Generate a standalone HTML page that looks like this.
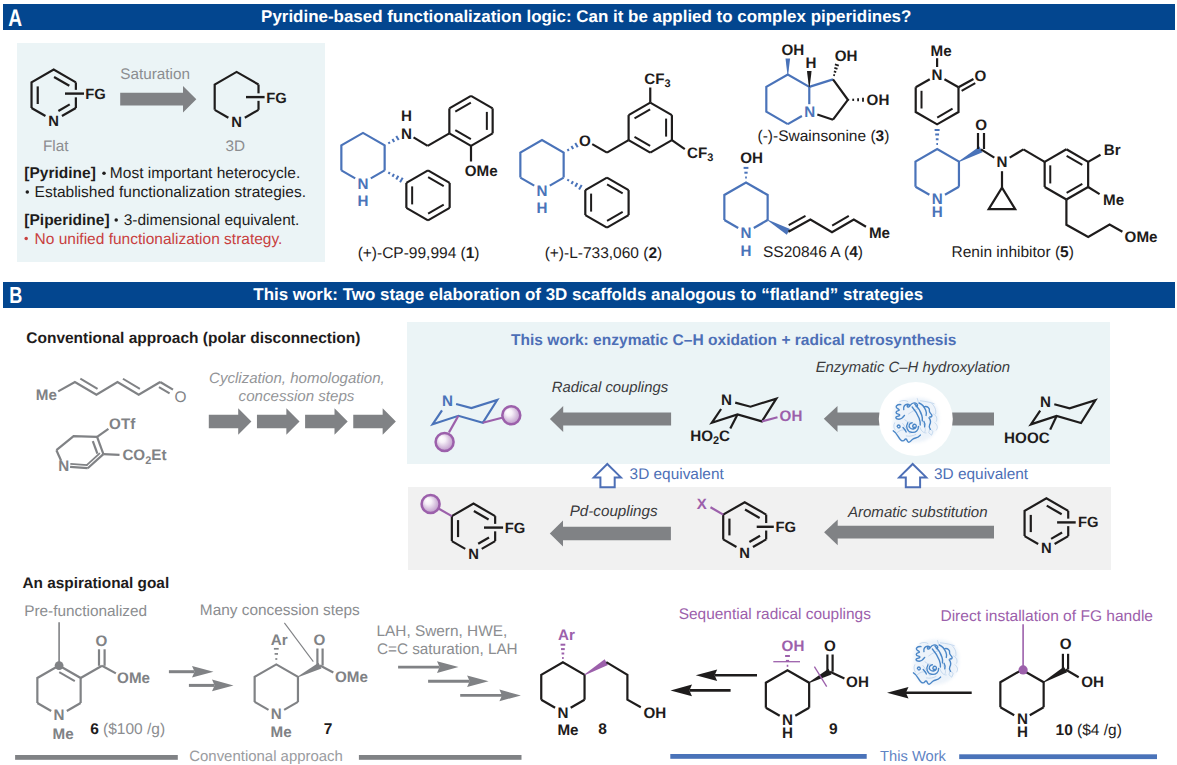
<!DOCTYPE html>
<html><head><meta charset="utf-8"><style>
html,body{margin:0;padding:0;background:#fff;}
svg{display:block;}
text{font-family:"Liberation Sans",sans-serif;text-rendering:geometricPrecision;}
</style></head><body>
<svg width="1177" height="765" viewBox="0 0 1177 765">
<defs>
<radialGradient id="ball" cx="0.5" cy="0.5" fx="0.3" fy="0.28" r="0.62">
<stop offset="0" stop-color="#ffffff"/><stop offset="0.3" stop-color="#f6f0f8"/><stop offset="1" stop-color="#ae82bd"/>
</radialGradient>
<radialGradient id="glow" cx="0.5" cy="0.5" r="0.5">
<stop offset="0.9" stop-color="#ffffff" stop-opacity="1"/><stop offset="1" stop-color="#ffffff" stop-opacity="0"/>
</radialGradient>
</defs>
<rect x="0" y="0" width="1177" height="765" fill="#ffffff"/>
<rect x="3" y="4" width="1172" height="26" fill="#03468f"/>
<rect x="3" y="282" width="1172" height="26" fill="#03468f"/>
<rect x="17" y="43" width="308" height="219" fill="#ebf4f6"/>
<rect x="407" y="322" width="703" height="142" fill="#ebf4f6"/>
<rect x="408" y="487" width="703" height="83" fill="#f1f1f1"/>
<text transform="translate(8.2,25.9) scale(0.80,1)" font-size="24" font-weight="bold" fill="#ffffff">A</text>
<text transform="translate(9.2,303) scale(0.78,1)" font-size="23.2" font-weight="bold" fill="#ffffff">B</text>
<text x="261.08" y="22.30" font-size="16.95" font-weight="bold" font-style="normal" fill="#ffffff">Pyridine-based functionalization logic: Can it be applied to complex piperidines?</text>
<text x="253.31" y="300.40" font-size="16.95" font-weight="bold" font-style="normal" fill="#ffffff">This work: Two stage elaboration of 3D scaffolds analogous to “flatland” strategies</text>
<polyline points="31.53,108.00 31.53,82.40 53.70,69.60 75.87,82.40" fill="none" stroke="#1e1c1c" stroke-width="2.2" stroke-linejoin="miter"/>
<line x1="75.87" y1="82.40" x2="75.87" y2="108.00" stroke="#1e1c1c" stroke-width="2.2" stroke-linecap="butt"/>
<line x1="75.87" y1="108.00" x2="61.93" y2="116.05" stroke="#1e1c1c" stroke-width="2.2" stroke-linecap="butt"/>
<line x1="31.53" y1="108.00" x2="45.47" y2="116.05" stroke="#1e1c1c" stroke-width="2.2" stroke-linecap="butt"/>
<line x1="37.73" y1="86.40" x2="37.73" y2="104.00" stroke="#1e1c1c" stroke-width="2.2" stroke-linecap="butt"/>
<line x1="54.06" y1="76.97" x2="69.31" y2="85.77" stroke="#1e1c1c" stroke-width="2.2" stroke-linecap="butt"/>
<line x1="69.74" y1="104.38" x2="58.39" y2="110.93" stroke="#1e1c1c" stroke-width="2.2" stroke-linecap="butt"/>
<line x1="65.00" y1="93.60" x2="79.37" y2="93.60" stroke="#ebf4f6" stroke-width="7.5" stroke-linecap="butt"/>
<line x1="65.00" y1="93.60" x2="84.00" y2="93.60" stroke="#1e1c1c" stroke-width="2.4" stroke-linecap="butt"/>
<text x="85.22" y="99.30" font-size="14.8" font-weight="bold" font-style="normal" fill="#1e1c1c">FG</text>
<text x="48.36" y="125.50" font-size="14.8" font-weight="bold" font-style="normal" fill="#1e1c1c">N</text>
<polygon points="120.20,92.70 183.00,92.70 183.00,86.10 196.30,99.20 183.00,112.40 183.00,105.60 120.20,105.60" fill="#808285"/>
<text x="120.31" y="78.80" font-size="15.3" font-weight="normal" font-style="normal" fill="#8b8d90">Saturation</text>
<polyline points="214.69,109.85 214.69,84.55 236.60,71.90 258.51,84.55" fill="none" stroke="#1e1c1c" stroke-width="2.2" stroke-linejoin="miter"/>
<line x1="258.51" y1="84.55" x2="258.51" y2="109.85" stroke="#1e1c1c" stroke-width="2.2" stroke-linecap="butt"/>
<line x1="258.51" y1="109.85" x2="244.83" y2="117.75" stroke="#1e1c1c" stroke-width="2.2" stroke-linecap="butt"/>
<line x1="214.69" y1="109.85" x2="228.37" y2="117.75" stroke="#1e1c1c" stroke-width="2.2" stroke-linecap="butt"/>
<line x1="246.00" y1="97.10" x2="262.01" y2="97.10" stroke="#ebf4f6" stroke-width="7.5" stroke-linecap="butt"/>
<line x1="246.00" y1="97.10" x2="264.60" y2="97.10" stroke="#1e1c1c" stroke-width="2.4" stroke-linecap="butt"/>
<text x="266.22" y="102.60" font-size="14.8" font-weight="bold" font-style="normal" fill="#1e1c1c">FG</text>
<text x="231.26" y="127.20" font-size="14.8" font-weight="bold" font-style="normal" fill="#1e1c1c">N</text>
<text x="42.95" y="150.70" font-size="15.3" font-weight="normal" font-style="normal" fill="#8b8d90">Flat</text>
<text x="225.42" y="150.70" font-size="15.3" font-weight="normal" font-style="normal" fill="#8b8d90">3D</text>
<text x="24.33" y="178.40" font-size="15.5"><tspan font-weight="bold" font-style="normal" fill="#1e1c1c">[Pyridine]</tspan><tspan font-weight="normal" font-style="normal" fill="#00000000"> •</tspan><tspan font-weight="normal" font-style="normal" fill="#1e1c1c"> Most important heterocycle.</tspan></text>
<text x="24.80" y="197.00" font-size="15.5"><tspan font-weight="normal" font-style="normal" fill="#00000000">•</tspan><tspan font-weight="normal" font-style="normal" fill="#1e1c1c"> Established functionalization strategies.</tspan></text>
<text x="24.33" y="225.00" font-size="15.5"><tspan font-weight="bold" font-style="normal" fill="#1e1c1c">[Piperidine]</tspan><tspan font-weight="normal" font-style="normal" fill="#00000000"> •</tspan><tspan font-weight="normal" font-style="normal" fill="#1e1c1c"> 3-dimensional equivalent.</tspan></text>
<text x="24.80" y="243.60" font-size="15.5"><tspan font-weight="normal" font-style="normal" fill="#00000000">•</tspan><tspan font-weight="normal" font-style="normal" fill="#c8403f"> No unified functionalization strategy.</tspan></text>
<circle cx="104" cy="173.3" r="1.75" fill="#1e1c1c"/>
<circle cx="27.3" cy="191.9" r="1.75" fill="#1e1c1c"/>
<circle cx="116.2" cy="219.9" r="1.75" fill="#1e1c1c"/>
<circle cx="26.2" cy="238.5" r="1.75" fill="#c8403f"/>
<polyline points="341.35,170.40 341.35,145.40 363.00,132.90 384.65,145.40 384.65,170.40" fill="none" stroke="#4a73b9" stroke-width="2.2" stroke-linejoin="miter"/>
<line x1="384.65" y1="170.40" x2="370.79" y2="178.40" stroke="#4a73b9" stroke-width="2.2" stroke-linecap="butt"/>
<line x1="341.35" y1="170.40" x2="355.21" y2="178.40" stroke="#4a73b9" stroke-width="2.2" stroke-linecap="butt"/>
<text x="357.52" y="188.60" font-size="15.2" font-weight="bold" font-style="normal" fill="#4a73b9">N</text>
<text x="357.52" y="206.20" font-size="15.2" font-weight="bold" font-style="normal" fill="#4a73b9">H</text>
<line x1="389.68" y1="143.71" x2="388.63" y2="141.89" stroke="#4a73b9" stroke-width="2.0" stroke-linecap="butt"/>
<line x1="394.19" y1="141.92" x2="392.44" y2="138.88" stroke="#4a73b9" stroke-width="2.0" stroke-linecap="butt"/>
<line x1="398.69" y1="140.12" x2="396.24" y2="135.88" stroke="#4a73b9" stroke-width="2.0" stroke-linecap="butt"/>
<text x="400.92" y="138.80" font-size="15.2" font-weight="bold" font-style="normal" fill="#1e1c1c">N</text>
<text x="400.92" y="121.00" font-size="15.2" font-weight="bold" font-style="normal" fill="#1e1c1c">H</text>
<line x1="413.56" y1="137.32" x2="427.65" y2="145.90" stroke="#1e1c1c" stroke-width="2.2" stroke-linecap="butt"/>
<polyline points="427.65,145.90 449.35,133.40" fill="none" stroke="#1e1c1c" stroke-width="2.2" stroke-linejoin="miter"/>
<line x1="471.00" y1="95.90" x2="492.65" y2="108.40" stroke="#1e1c1c" stroke-width="2.2" stroke-linecap="butt"/>
<line x1="492.65" y1="108.40" x2="492.65" y2="133.40" stroke="#1e1c1c" stroke-width="2.2" stroke-linecap="butt"/>
<line x1="492.65" y1="133.40" x2="471.00" y2="145.90" stroke="#1e1c1c" stroke-width="2.2" stroke-linecap="butt"/>
<line x1="471.00" y1="145.90" x2="449.35" y2="133.40" stroke="#1e1c1c" stroke-width="2.2" stroke-linecap="butt"/>
<line x1="449.35" y1="133.40" x2="449.35" y2="108.40" stroke="#1e1c1c" stroke-width="2.2" stroke-linecap="butt"/>
<line x1="449.35" y1="108.40" x2="471.00" y2="95.90" stroke="#1e1c1c" stroke-width="2.2" stroke-linecap="butt"/>
<line x1="455.28" y1="111.67" x2="470.87" y2="102.67" stroke="#1e1c1c" stroke-width="2.0" stroke-linecap="butt"/>
<line x1="486.85" y1="111.90" x2="486.85" y2="129.90" stroke="#1e1c1c" stroke-width="2.0" stroke-linecap="butt"/>
<line x1="470.87" y1="139.13" x2="455.28" y2="130.13" stroke="#1e1c1c" stroke-width="2.0" stroke-linecap="butt"/>
<line x1="471.00" y1="145.90" x2="471.00" y2="161.50" stroke="#1e1c1c" stroke-width="2.2" stroke-linecap="butt"/>
<text x="464.78" y="175.60" font-size="15.2" font-weight="bold" font-style="normal" fill="#1e1c1c">OMe</text>
<line x1="388.63" y1="173.91" x2="389.68" y2="172.09" stroke="#4a73b9" stroke-width="2.0" stroke-linecap="butt"/>
<line x1="392.43" y1="176.72" x2="394.02" y2="173.98" stroke="#4a73b9" stroke-width="2.0" stroke-linecap="butt"/>
<line x1="396.24" y1="179.53" x2="398.35" y2="175.87" stroke="#4a73b9" stroke-width="2.0" stroke-linecap="butt"/>
<line x1="400.04" y1="182.35" x2="402.69" y2="177.76" stroke="#4a73b9" stroke-width="2.0" stroke-linecap="butt"/>
<line x1="428.00" y1="170.40" x2="449.65" y2="182.90" stroke="#1e1c1c" stroke-width="2.2" stroke-linecap="butt"/>
<line x1="449.65" y1="182.90" x2="449.65" y2="207.90" stroke="#1e1c1c" stroke-width="2.2" stroke-linecap="butt"/>
<line x1="449.65" y1="207.90" x2="428.00" y2="220.40" stroke="#1e1c1c" stroke-width="2.2" stroke-linecap="butt"/>
<line x1="428.00" y1="220.40" x2="406.35" y2="207.90" stroke="#1e1c1c" stroke-width="2.2" stroke-linecap="butt"/>
<line x1="406.35" y1="207.90" x2="406.35" y2="182.90" stroke="#1e1c1c" stroke-width="2.2" stroke-linecap="butt"/>
<line x1="406.35" y1="182.90" x2="428.00" y2="170.40" stroke="#1e1c1c" stroke-width="2.2" stroke-linecap="butt"/>
<line x1="412.15" y1="204.40" x2="412.15" y2="186.40" stroke="#1e1c1c" stroke-width="2.0" stroke-linecap="butt"/>
<line x1="428.13" y1="177.17" x2="443.72" y2="186.17" stroke="#1e1c1c" stroke-width="2.0" stroke-linecap="butt"/>
<line x1="443.72" y1="204.63" x2="428.13" y2="213.63" stroke="#1e1c1c" stroke-width="2.0" stroke-linecap="butt"/>
<text x="357.64" y="258.40" font-size="15.5"><tspan font-weight="normal" font-style="normal" fill="#1e1c1c">(+)-CP-99,994 (</tspan><tspan font-weight="bold" font-style="normal" fill="#1e1c1c">1</tspan><tspan font-weight="normal" font-style="normal" fill="#1e1c1c">)</tspan></text>
<polyline points="520.35,177.60 520.35,152.60 542.00,140.10 563.65,152.60 563.65,177.60" fill="none" stroke="#4a73b9" stroke-width="2.2" stroke-linejoin="miter"/>
<line x1="563.65" y1="177.60" x2="549.79" y2="185.60" stroke="#4a73b9" stroke-width="2.2" stroke-linecap="butt"/>
<line x1="520.35" y1="177.60" x2="534.21" y2="185.60" stroke="#4a73b9" stroke-width="2.2" stroke-linecap="butt"/>
<text x="536.52" y="195.60" font-size="15.2" font-weight="bold" font-style="normal" fill="#4a73b9">N</text>
<text x="536.52" y="213.20" font-size="15.2" font-weight="bold" font-style="normal" fill="#4a73b9">H</text>
<line x1="568.68" y1="150.91" x2="567.63" y2="149.09" stroke="#4a73b9" stroke-width="2.0" stroke-linecap="butt"/>
<line x1="573.19" y1="149.12" x2="571.44" y2="146.08" stroke="#4a73b9" stroke-width="2.0" stroke-linecap="butt"/>
<line x1="577.69" y1="147.32" x2="575.24" y2="143.08" stroke="#4a73b9" stroke-width="2.0" stroke-linecap="butt"/>
<text x="579.09" y="146.20" font-size="15.2" font-weight="bold" font-style="normal" fill="#1e1c1c">O</text>
<line x1="592.23" y1="144.10" x2="606.95" y2="152.60" stroke="#1e1c1c" stroke-width="2.2" stroke-linecap="butt"/>
<line x1="606.95" y1="152.60" x2="628.60" y2="140.10" stroke="#1e1c1c" stroke-width="2.2" stroke-linecap="butt"/>
<line x1="650.25" y1="102.60" x2="671.90" y2="115.10" stroke="#1e1c1c" stroke-width="2.2" stroke-linecap="butt"/>
<line x1="671.90" y1="115.10" x2="671.90" y2="140.10" stroke="#1e1c1c" stroke-width="2.2" stroke-linecap="butt"/>
<line x1="671.90" y1="140.10" x2="650.25" y2="152.60" stroke="#1e1c1c" stroke-width="2.2" stroke-linecap="butt"/>
<line x1="650.25" y1="152.60" x2="628.60" y2="140.10" stroke="#1e1c1c" stroke-width="2.2" stroke-linecap="butt"/>
<line x1="628.60" y1="140.10" x2="628.60" y2="115.10" stroke="#1e1c1c" stroke-width="2.2" stroke-linecap="butt"/>
<line x1="628.60" y1="115.10" x2="650.25" y2="102.60" stroke="#1e1c1c" stroke-width="2.2" stroke-linecap="butt"/>
<line x1="650.12" y1="109.37" x2="634.53" y2="118.37" stroke="#1e1c1c" stroke-width="2.0" stroke-linecap="butt"/>
<line x1="666.10" y1="118.60" x2="666.10" y2="136.60" stroke="#1e1c1c" stroke-width="2.0" stroke-linecap="butt"/>
<line x1="634.53" y1="136.83" x2="650.12" y2="145.83" stroke="#1e1c1c" stroke-width="2.0" stroke-linecap="butt"/>
<line x1="650.25" y1="102.60" x2="650.25" y2="87.50" stroke="#1e1c1c" stroke-width="2.2" stroke-linecap="butt"/>
<text x="644.18" y="83.90" font-size="15.2" font-weight="bold" font-style="normal" fill="#1e1c1c">CF</text>
<text x="664.44" y="87.09" font-size="10.94" font-weight="bold" font-style="normal" fill="#1e1c1c">3</text>
<line x1="671.90" y1="140.10" x2="684.80" y2="149.10" stroke="#1e1c1c" stroke-width="2.2" stroke-linecap="butt"/>
<text x="687.08" y="158.30" font-size="15.2" font-weight="bold" font-style="normal" fill="#1e1c1c">CF</text>
<text x="707.34" y="161.49" font-size="10.94" font-weight="bold" font-style="normal" fill="#1e1c1c">3</text>
<line x1="567.63" y1="181.11" x2="568.68" y2="179.29" stroke="#4a73b9" stroke-width="2.0" stroke-linecap="butt"/>
<line x1="571.43" y1="183.92" x2="573.02" y2="181.18" stroke="#4a73b9" stroke-width="2.0" stroke-linecap="butt"/>
<line x1="575.24" y1="186.73" x2="577.35" y2="183.07" stroke="#4a73b9" stroke-width="2.0" stroke-linecap="butt"/>
<line x1="579.04" y1="189.55" x2="581.69" y2="184.96" stroke="#4a73b9" stroke-width="2.0" stroke-linecap="butt"/>
<line x1="606.95" y1="177.60" x2="628.60" y2="190.10" stroke="#1e1c1c" stroke-width="2.2" stroke-linecap="butt"/>
<line x1="628.60" y1="190.10" x2="628.60" y2="215.10" stroke="#1e1c1c" stroke-width="2.2" stroke-linecap="butt"/>
<line x1="628.60" y1="215.10" x2="606.95" y2="227.60" stroke="#1e1c1c" stroke-width="2.2" stroke-linecap="butt"/>
<line x1="606.95" y1="227.60" x2="585.30" y2="215.10" stroke="#1e1c1c" stroke-width="2.2" stroke-linecap="butt"/>
<line x1="585.30" y1="215.10" x2="585.30" y2="190.10" stroke="#1e1c1c" stroke-width="2.2" stroke-linecap="butt"/>
<line x1="585.30" y1="190.10" x2="606.95" y2="177.60" stroke="#1e1c1c" stroke-width="2.2" stroke-linecap="butt"/>
<line x1="591.10" y1="211.60" x2="591.10" y2="193.60" stroke="#1e1c1c" stroke-width="2.0" stroke-linecap="butt"/>
<line x1="607.08" y1="184.37" x2="622.67" y2="193.37" stroke="#1e1c1c" stroke-width="2.0" stroke-linecap="butt"/>
<line x1="622.67" y1="211.83" x2="607.08" y2="220.83" stroke="#1e1c1c" stroke-width="2.0" stroke-linecap="butt"/>
<text x="544.64" y="258.00" font-size="15.5"><tspan font-weight="normal" font-style="normal" fill="#1e1c1c">(+)-L-733,060 (</tspan><tspan font-weight="bold" font-style="normal" fill="#1e1c1c">2</tspan><tspan font-weight="normal" font-style="normal" fill="#1e1c1c">)</tspan></text>
<polyline points="809.28,86.90 787.80,74.50 766.32,86.90 766.32,111.70 787.80,124.10" fill="none" stroke="#4a73b9" stroke-width="2.2" stroke-linejoin="miter"/>
<line x1="809.28" y1="86.90" x2="809.28" y2="104.20" stroke="#4a73b9" stroke-width="2.2" stroke-linecap="butt"/>
<line x1="787.80" y1="124.10" x2="801.92" y2="115.95" stroke="#4a73b9" stroke-width="2.2" stroke-linecap="butt"/>
<text x="804.30" y="117.20" font-size="15.2" font-weight="bold" font-style="normal" fill="#4a73b9">N</text>
<line x1="809.28" y1="86.90" x2="833.00" y2="79.40" stroke="#4a73b9" stroke-width="2.2" stroke-linecap="butt"/>
<polyline points="833.00,79.40 847.90,99.80 833.00,119.70" fill="none" stroke="#1e1c1c" stroke-width="2.2" stroke-linejoin="miter"/>
<line x1="833.00" y1="119.70" x2="817.33" y2="114.42" stroke="#1e1c1c" stroke-width="2.2" stroke-linecap="butt"/>
<polygon points="809.68,86.90 811.58,71.00 806.98,71.00 808.88,86.90" fill="#1e1c1c"/>
<text x="805.52" y="67.60" font-size="15.2" font-weight="bold" font-style="normal" fill="#1e1c1c">H</text>
<polygon points="788.20,74.50 790.10,58.60 785.50,58.60 787.40,74.50" fill="#4a73b9"/>
<text x="781.38" y="55.10" font-size="15.2" font-weight="bold" font-style="normal" fill="#1e1c1c">OH</text>
<line x1="834.95" y1="75.37" x2="833.31" y2="74.93" stroke="#1e1c1c" stroke-width="1.8" stroke-linecap="butt"/>
<line x1="836.22" y1="72.08" x2="833.84" y2="71.45" stroke="#1e1c1c" stroke-width="1.8" stroke-linecap="butt"/>
<line x1="837.50" y1="68.80" x2="834.37" y2="67.97" stroke="#1e1c1c" stroke-width="1.8" stroke-linecap="butt"/>
<line x1="838.77" y1="65.52" x2="834.90" y2="64.49" stroke="#1e1c1c" stroke-width="1.8" stroke-linecap="butt"/>
<text x="834.78" y="60.90" font-size="15.2" font-weight="bold" font-style="normal" fill="#1e1c1c">OH</text>
<line x1="848.30" y1="100.50" x2="848.30" y2="99.10" stroke="#1e1c1c" stroke-width="1.8" stroke-linecap="butt"/>
<line x1="853.20" y1="100.93" x2="853.20" y2="98.67" stroke="#1e1c1c" stroke-width="1.8" stroke-linecap="butt"/>
<line x1="858.10" y1="101.37" x2="858.10" y2="98.23" stroke="#1e1c1c" stroke-width="1.8" stroke-linecap="butt"/>
<line x1="863.00" y1="101.80" x2="863.00" y2="97.80" stroke="#1e1c1c" stroke-width="1.8" stroke-linecap="butt"/>
<text x="866.58" y="104.50" font-size="15.2" font-weight="bold" font-style="normal" fill="#1e1c1c">OH</text>
<text x="757.54" y="140.60" font-size="15.5"><tspan font-weight="normal" font-style="normal" fill="#1e1c1c">(-)-Swainsonine (</tspan><tspan font-weight="bold" font-style="normal" fill="#1e1c1c">3</tspan><tspan font-weight="normal" font-style="normal" fill="#1e1c1c">)</tspan></text>
<polyline points="724.35,220.00 724.35,195.00 746.00,182.50 767.65,195.00 767.65,220.00" fill="none" stroke="#4a73b9" stroke-width="2.2" stroke-linejoin="miter"/>
<line x1="767.65" y1="220.00" x2="753.79" y2="228.00" stroke="#4a73b9" stroke-width="2.2" stroke-linecap="butt"/>
<line x1="724.35" y1="220.00" x2="738.21" y2="228.00" stroke="#4a73b9" stroke-width="2.2" stroke-linecap="butt"/>
<text x="740.52" y="237.70" font-size="15.2" font-weight="bold" font-style="normal" fill="#4a73b9">N</text>
<text x="740.52" y="255.50" font-size="15.2" font-weight="bold" font-style="normal" fill="#4a73b9">H</text>
<line x1="746.85" y1="177.50" x2="745.15" y2="177.50" stroke="#4a73b9" stroke-width="2.0" stroke-linecap="butt"/>
<line x1="747.62" y1="172.70" x2="744.38" y2="172.70" stroke="#4a73b9" stroke-width="2.0" stroke-linecap="butt"/>
<line x1="748.40" y1="167.90" x2="743.60" y2="167.90" stroke="#4a73b9" stroke-width="2.0" stroke-linecap="butt"/>
<text x="740.18" y="163.00" font-size="15.2" font-weight="bold" font-style="normal" fill="#1e1c1c">OH</text>
<polygon points="767.45,220.35 786.79,234.63 790.01,228.97 767.85,219.65" fill="#4a73b9"/>
<polyline points="788.40,231.80 810.40,219.50 832.00,232.30 853.80,219.50 866.00,226.80" fill="none" stroke="#1e1c1c" stroke-width="2.2" stroke-linejoin="miter"/>
<line x1="788.72" y1="225.20" x2="805.49" y2="215.83" stroke="#1e1c1c" stroke-width="2.0" stroke-linecap="butt"/>
<line x1="832.18" y1="225.70" x2="848.81" y2="215.94" stroke="#1e1c1c" stroke-width="2.0" stroke-linecap="butt"/>
<text x="868.90" y="237.70" font-size="15.2" font-weight="bold" font-style="normal" fill="#1e1c1c">Me</text>
<text x="763.00" y="257.20" font-size="15.5"><tspan font-weight="normal" font-style="normal" fill="#1e1c1c">SS20846 A (</tspan><tspan font-weight="bold" font-style="normal" fill="#1e1c1c">4</tspan><tspan font-weight="normal" font-style="normal" fill="#1e1c1c">)</tspan></text>
<line x1="915.71" y1="87.30" x2="929.74" y2="79.20" stroke="#1e1c1c" stroke-width="2.2" stroke-linecap="butt"/>
<line x1="958.49" y1="87.30" x2="944.46" y2="79.20" stroke="#1e1c1c" stroke-width="2.2" stroke-linecap="butt"/>
<polyline points="958.49,87.30 958.49,112.00 937.10,124.35 915.71,112.00 915.71,87.30" fill="none" stroke="#1e1c1c" stroke-width="2.2" stroke-linejoin="miter"/>
<line x1="921.51" y1="108.50" x2="921.51" y2="90.80" stroke="#1e1c1c" stroke-width="2.0" stroke-linecap="butt"/>
<line x1="952.56" y1="108.73" x2="937.23" y2="117.58" stroke="#1e1c1c" stroke-width="2.0" stroke-linecap="butt"/>
<text x="931.62" y="80.20" font-size="15.2" font-weight="bold" font-style="normal" fill="#1e1c1c">N</text>
<line x1="937.10" y1="58.20" x2="937.10" y2="67.00" stroke="#1e1c1c" stroke-width="2.2" stroke-linecap="butt"/>
<text x="930.50" y="55.60" font-size="15.2" font-weight="bold" font-style="normal" fill="#1e1c1c">Me</text>
<line x1="958.49" y1="87.30" x2="973.45" y2="78.95" stroke="#1e1c1c" stroke-width="2.2" stroke-linecap="butt"/>
<line x1="961.61" y1="90.83" x2="975.25" y2="83.21" stroke="#1e1c1c" stroke-width="2.0" stroke-linecap="butt"/>
<text x="974.39" y="80.60" font-size="15.2" font-weight="bold" font-style="normal" fill="#1e1c1c">O</text>
<polyline points="958.94,186.75 958.94,161.65 937.20,149.10 915.46,161.65 915.46,186.75" fill="none" stroke="#4a73b9" stroke-width="2.2" stroke-linejoin="miter"/>
<line x1="958.94" y1="186.75" x2="944.99" y2="194.80" stroke="#4a73b9" stroke-width="2.2" stroke-linecap="butt"/>
<line x1="915.46" y1="186.75" x2="929.41" y2="194.80" stroke="#4a73b9" stroke-width="2.2" stroke-linecap="butt"/>
<text x="931.72" y="204.40" font-size="15.2" font-weight="bold" font-style="normal" fill="#4a73b9">N</text>
<text x="931.72" y="217.10" font-size="15.2" font-weight="bold" font-style="normal" fill="#4a73b9">H</text>
<line x1="937.98" y1="143.90" x2="936.38" y2="143.90" stroke="#4a73b9" stroke-width="2.0" stroke-linecap="butt"/>
<line x1="938.53" y1="139.24" x2="935.79" y2="139.26" stroke="#4a73b9" stroke-width="2.0" stroke-linecap="butt"/>
<line x1="939.07" y1="134.59" x2="935.21" y2="134.61" stroke="#4a73b9" stroke-width="2.0" stroke-linecap="butt"/>
<line x1="939.62" y1="129.94" x2="934.62" y2="129.96" stroke="#4a73b9" stroke-width="2.0" stroke-linecap="butt"/>
<polygon points="959.13,162.00 982.58,152.24 979.42,146.56 958.74,161.30" fill="#4a73b9"/>
<line x1="978.00" y1="149.00" x2="978.00" y2="133.00" stroke="#1e1c1c" stroke-width="2.2" stroke-linecap="butt"/>
<line x1="984.00" y1="149.00" x2="984.00" y2="133.00" stroke="#1e1c1c" stroke-width="2.2" stroke-linecap="butt"/>
<text x="975.29" y="130.20" font-size="15.2" font-weight="bold" font-style="normal" fill="#1e1c1c">O</text>
<line x1="981.00" y1="149.40" x2="994.33" y2="157.59" stroke="#1e1c1c" stroke-width="2.2" stroke-linecap="butt"/>
<text x="996.42" y="167.20" font-size="15.2" font-weight="bold" font-style="normal" fill="#1e1c1c">N</text>
<line x1="1009.71" y1="157.65" x2="1023.40" y2="149.40" stroke="#1e1c1c" stroke-width="2.2" stroke-linecap="butt"/>
<line x1="1023.40" y1="149.40" x2="1044.66" y2="161.85" stroke="#1e1c1c" stroke-width="2.2" stroke-linecap="butt"/>
<line x1="1066.40" y1="149.30" x2="1088.14" y2="161.85" stroke="#1e1c1c" stroke-width="2.2" stroke-linecap="butt"/>
<line x1="1088.14" y1="161.85" x2="1088.14" y2="186.95" stroke="#1e1c1c" stroke-width="2.2" stroke-linecap="butt"/>
<line x1="1088.14" y1="186.95" x2="1066.40" y2="199.50" stroke="#1e1c1c" stroke-width="2.2" stroke-linecap="butt"/>
<line x1="1066.40" y1="199.50" x2="1044.66" y2="186.95" stroke="#1e1c1c" stroke-width="2.2" stroke-linecap="butt"/>
<line x1="1044.66" y1="186.95" x2="1044.66" y2="161.85" stroke="#1e1c1c" stroke-width="2.2" stroke-linecap="butt"/>
<line x1="1044.66" y1="161.85" x2="1066.40" y2="149.30" stroke="#1e1c1c" stroke-width="2.2" stroke-linecap="butt"/>
<line x1="1050.26" y1="165.35" x2="1050.26" y2="183.45" stroke="#1e1c1c" stroke-width="2.0" stroke-linecap="butt"/>
<line x1="1066.63" y1="155.90" x2="1082.31" y2="164.95" stroke="#1e1c1c" stroke-width="2.0" stroke-linecap="butt"/>
<line x1="1082.31" y1="183.85" x2="1066.63" y2="192.90" stroke="#1e1c1c" stroke-width="2.0" stroke-linecap="butt"/>
<line x1="1002.00" y1="171.20" x2="1002.00" y2="187.60" stroke="#1e1c1c" stroke-width="2.2" stroke-linecap="butt"/>
<polygon points="1002.00,187.60 988.70,209.20 1015.20,209.20" fill="none" stroke="#1e1c1c" stroke-width="2.2" stroke-linejoin="miter"/>
<line x1="1088.14" y1="161.85" x2="1100.50" y2="154.70" stroke="#1e1c1c" stroke-width="2.2" stroke-linecap="butt"/>
<text x="1103.70" y="154.80" font-size="15.2" font-weight="bold" font-style="normal" fill="#1e1c1c">Br</text>
<line x1="1088.14" y1="186.95" x2="1099.60" y2="194.10" stroke="#1e1c1c" stroke-width="2.2" stroke-linecap="butt"/>
<text x="1103.10" y="205.10" font-size="15.2" font-weight="bold" font-style="normal" fill="#1e1c1c">Me</text>
<polyline points="1066.40,199.50 1066.40,224.80 1088.20,236.90 1109.60,224.50 1122.40,231.80" fill="none" stroke="#1e1c1c" stroke-width="2.2" stroke-linejoin="miter"/>
<text x="1124.58" y="242.10" font-size="15.2" font-weight="bold" font-style="normal" fill="#1e1c1c">OMe</text>
<text x="951.53" y="257.40" font-size="15.5"><tspan font-weight="normal" font-style="normal" fill="#1e1c1c">Renin inhibitor (</tspan><tspan font-weight="bold" font-style="normal" fill="#1e1c1c">5</tspan><tspan font-weight="normal" font-style="normal" fill="#1e1c1c">)</tspan></text>
<text x="26.26" y="343.40" font-size="15.5" font-weight="bold" font-style="normal" fill="#1e1c1c">Conventional approach (polar disconnection)</text>
<text x="35.80" y="400.00" font-size="15.2" font-weight="bold" font-style="normal" fill="#808285">Me</text>
<polyline points="58.20,391.40 74.90,382.00 96.40,394.80 117.50,382.00 138.70,394.80 160.20,382.00" fill="none" stroke="#808285" stroke-width="2.2" stroke-linejoin="miter"/>
<line x1="80.34" y1="378.72" x2="97.55" y2="388.97" stroke="#808285" stroke-width="2.0" stroke-linecap="butt"/>
<line x1="122.96" y1="378.76" x2="139.88" y2="388.97" stroke="#808285" stroke-width="2.0" stroke-linecap="butt"/>
<line x1="160.20" y1="382.00" x2="173.00" y2="389.60" stroke="#808285" stroke-width="2.2" stroke-linecap="butt"/>
<line x1="158.94" y1="387.07" x2="169.59" y2="393.39" stroke="#808285" stroke-width="2.0" stroke-linecap="butt"/>
<text x="174.42" y="402.40" font-size="15.4" font-weight="normal" font-style="normal" fill="#808285">O</text>
<polyline points="97.10,436.90 73.60,436.10 56.40,450.20" fill="none" stroke="#808285" stroke-width="2.2" stroke-linejoin="miter"/>
<line x1="56.40" y1="450.20" x2="61.15" y2="460.82" stroke="#808285" stroke-width="2.2" stroke-linecap="butt"/>
<line x1="97.10" y1="436.90" x2="103.40" y2="454.10" stroke="#808285" stroke-width="2.2" stroke-linecap="butt"/>
<line x1="92.80" y1="441.14" x2="97.38" y2="453.64" stroke="#808285" stroke-width="2.2" stroke-linecap="butt"/>
<line x1="70.08" y1="466.81" x2="87.70" y2="468.20" stroke="#808285" stroke-width="2.2" stroke-linecap="butt"/>
<line x1="70.32" y1="463.82" x2="87.44" y2="465.17" stroke="#808285" stroke-width="1.8" stroke-linecap="butt"/>
<polyline points="87.70,468.20 103.40,454.10" fill="none" stroke="#808285" stroke-width="2.2" stroke-linejoin="miter"/>
<line x1="86.44" y1="465.30" x2="99.91" y2="453.20" stroke="#808285" stroke-width="1.8" stroke-linecap="butt"/>
<text x="58.32" y="471.40" font-size="15.2" font-weight="bold" font-style="normal" fill="#808285">N</text>
<line x1="97.10" y1="436.90" x2="108.40" y2="428.80" stroke="#808285" stroke-width="2.2" stroke-linecap="butt"/>
<text x="109.08" y="429.00" font-size="15.2" font-weight="bold" font-style="normal" fill="#808285">OTf</text>
<line x1="103.40" y1="454.10" x2="119.50" y2="454.90" stroke="#808285" stroke-width="2.2" stroke-linecap="butt"/>
<text x="122.38" y="460.40" font-size="15.2" font-weight="bold" font-style="normal" fill="#808285">CO</text>
<text x="145.18" y="463.59" font-size="10.94" font-weight="bold" font-style="normal" fill="#808285">2</text>
<text x="151.26" y="460.40" font-size="15.2" font-weight="bold" font-style="normal" fill="#808285">Et</text>
<text x="209.07" y="382.60" font-size="15.05" font-weight="normal" font-style="italic" fill="#939598">Cyclization, homologation,</text>
<text x="238.62" y="400.80" font-size="15.1" font-weight="normal" font-style="italic" fill="#939598">concession steps</text>
<polygon points="208.80,414.70 238.20,414.70 238.20,408.30 251.40,421.50 238.20,434.80 238.20,428.20 208.80,428.20" fill="#808285"/>
<polygon points="256.95,414.70 286.35,414.70 286.35,408.30 299.55,421.50 286.35,434.80 286.35,428.20 256.95,428.20" fill="#808285"/>
<polygon points="305.10,414.70 334.50,414.70 334.50,408.30 347.70,421.50 334.50,434.80 334.50,428.20 305.10,428.20" fill="#808285"/>
<polygon points="353.25,414.70 382.65,414.70 382.65,408.30 395.85,421.50 382.65,434.80 382.65,428.20 353.25,428.20" fill="#808285"/>
<text x="511.03" y="344.80" font-size="15.55" font-weight="bold" font-style="normal" fill="#4d6fb6">This work: enzymatic C–H oxidation + radical retrosynthesis</text>
<polyline points="456.10,404.00 471.40,408.10 497.20,400.00 482.80,422.80 458.40,415.80 432.70,424.20 442.00,410.40" fill="none" stroke="#4a73b9" stroke-width="2.2" stroke-linejoin="miter"/>
<text x="441.92" y="406.30" font-size="15.2" font-weight="bold" font-style="normal" fill="#4a73b9">N</text>
<line x1="458.40" y1="415.80" x2="449.00" y2="432.40" stroke="#9c60ab" stroke-width="2.2" stroke-linecap="butt"/>
<circle cx="444.6" cy="441.9" r="9.0" fill="url(#ball)" stroke="#9c60ab" stroke-width="2.5"/>
<line x1="482.80" y1="422.80" x2="502.00" y2="417.80" stroke="#9c60ab" stroke-width="2.2" stroke-linecap="butt"/>
<circle cx="511.3" cy="415.3" r="9.0" fill="url(#ball)" stroke="#9c60ab" stroke-width="2.5"/>
<text x="551.75" y="392.20" font-size="14.85" font-weight="normal" font-style="italic" fill="#3a3a3c">Radical couplings</text>
<polygon points="549.90,419.00 563.20,406.00 563.20,412.40 671.10,412.40 671.10,425.60 563.20,425.60 563.20,432.00" fill="#808285"/>
<polyline points="735.20,402.60 750.50,406.70 776.30,398.60 761.90,421.40 737.50,414.40 711.80,422.80 721.10,409.00" fill="none" stroke="#1e1c1c" stroke-width="2.2" stroke-linejoin="miter"/>
<text x="721.02" y="404.50" font-size="15.2" font-weight="bold" font-style="normal" fill="#1e1c1c">N</text>
<line x1="737.50" y1="414.40" x2="730.30" y2="428.60" stroke="#1e1c1c" stroke-width="2.2" stroke-linecap="butt"/>
<text x="690.20" y="441.20" font-size="15.2" font-weight="bold" font-style="normal" fill="#1e1c1c">HO</text>
<text x="713.00" y="444.39" font-size="10.94" font-weight="bold" font-style="normal" fill="#1e1c1c">2</text>
<text x="719.08" y="441.20" font-size="15.2" font-weight="bold" font-style="normal" fill="#1e1c1c">C</text>
<line x1="761.90" y1="421.40" x2="777.50" y2="417.20" stroke="#9c60ab" stroke-width="2.2" stroke-linecap="butt"/>
<text x="779.58" y="420.60" font-size="15.2" font-weight="bold" font-style="normal" fill="#9c60ab">OH</text>
<text x="815.65" y="371.60" font-size="14.9" font-weight="normal" font-style="italic" fill="#3a3a3c">Enzymatic C–H hydroxylation</text>
<polygon points="823.80,418.80 837.50,406.00 837.50,412.40 890.00,412.40 890.00,425.60 837.50,425.60 837.50,432.00" fill="#808285"/>
<polygon points="945.00,412.40 994.00,412.40 994.00,425.60 945.00,425.60" fill="#808285"/>
<circle cx="915.8" cy="419.1" r="37.0" fill="#ffffff" filter="url(#soft1)"/>
<polyline points="1054.30,404.20 1069.60,408.30 1095.40,400.20 1081.00,423.00 1056.60,416.00 1030.90,424.40 1040.20,410.60" fill="none" stroke="#1e1c1c" stroke-width="2.2" stroke-linejoin="miter"/>
<text x="1040.12" y="406.70" font-size="15.2" font-weight="bold" font-style="normal" fill="#1e1c1c">N</text>
<line x1="1056.60" y1="416.00" x2="1050.20" y2="429.60" stroke="#1e1c1c" stroke-width="2.2" stroke-linecap="butt"/>
<text x="1004.10" y="442.70" font-size="15.2" font-weight="bold" font-style="normal" fill="#1e1c1c">HOOC</text>
<polygon points="607.30,464.00 620.90,477.40 614.70,477.40 614.70,487.20 600.40,487.20 600.40,477.40 593.80,477.40" fill="#ffffff" stroke="#4d6fb6" stroke-width="2.0" stroke-linejoin="miter"/>
<polygon points="912.70,464.00 926.30,477.40 920.10,477.40 920.10,487.20 905.80,487.20 905.80,477.40 899.20,477.40" fill="#ffffff" stroke="#4d6fb6" stroke-width="2.0" stroke-linejoin="miter"/>
<text x="629.61" y="479.00" font-size="15.4" font-weight="normal" font-style="normal" fill="#4d6fb6">3D equivalent</text>
<text x="934.01" y="479.00" font-size="15.4" font-weight="normal" font-style="normal" fill="#4d6fb6">3D equivalent</text>
<polyline points="451.85,541.10 451.85,516.10 473.50,503.60 495.15,516.10" fill="none" stroke="#1e1c1c" stroke-width="2.2" stroke-linejoin="miter"/>
<line x1="495.15" y1="516.10" x2="495.15" y2="541.10" stroke="#1e1c1c" stroke-width="2.2" stroke-linecap="butt"/>
<line x1="495.15" y1="541.10" x2="481.73" y2="548.85" stroke="#1e1c1c" stroke-width="2.2" stroke-linecap="butt"/>
<line x1="451.85" y1="541.10" x2="465.27" y2="548.85" stroke="#1e1c1c" stroke-width="2.2" stroke-linecap="butt"/>
<line x1="458.05" y1="520.10" x2="458.05" y2="537.10" stroke="#1e1c1c" stroke-width="2.2" stroke-linecap="butt"/>
<line x1="473.86" y1="510.97" x2="488.59" y2="519.47" stroke="#1e1c1c" stroke-width="2.2" stroke-linecap="butt"/>
<line x1="489.02" y1="537.48" x2="478.19" y2="543.73" stroke="#1e1c1c" stroke-width="2.2" stroke-linecap="butt"/>
<line x1="484.00" y1="527.60" x2="498.65" y2="527.60" stroke="#f1f1f1" stroke-width="7.5" stroke-linecap="butt"/>
<line x1="484.00" y1="527.60" x2="503.10" y2="527.60" stroke="#1e1c1c" stroke-width="2.4" stroke-linecap="butt"/>
<text x="504.72" y="533.40" font-size="14.8" font-weight="bold" font-style="normal" fill="#1e1c1c">FG</text>
<text x="468.16" y="558.90" font-size="14.8" font-weight="bold" font-style="normal" fill="#1e1c1c">N</text>
<line x1="451.85" y1="516.10" x2="438.50" y2="508.50" stroke="#9c60ab" stroke-width="2.2" stroke-linecap="butt"/>
<circle cx="430.6" cy="503.9" r="9.0" fill="url(#ball)" stroke="#9c60ab" stroke-width="2.5"/>
<text x="569.74" y="515.60" font-size="15.2" font-weight="normal" font-style="italic" fill="#3a3a3c">Pd-couplings</text>
<polygon points="549.80,533.40 563.00,520.40 563.00,526.80 670.90,526.80 670.90,540.20 563.00,540.20 563.00,546.60" fill="#808285"/>
<polyline points="723.22,539.40 723.22,514.60 744.70,502.20 766.18,514.60" fill="none" stroke="#1e1c1c" stroke-width="2.2" stroke-linejoin="miter"/>
<line x1="766.18" y1="514.60" x2="766.18" y2="539.40" stroke="#1e1c1c" stroke-width="2.2" stroke-linecap="butt"/>
<line x1="766.18" y1="539.40" x2="752.93" y2="547.05" stroke="#1e1c1c" stroke-width="2.2" stroke-linecap="butt"/>
<line x1="723.22" y1="539.40" x2="736.47" y2="547.05" stroke="#1e1c1c" stroke-width="2.2" stroke-linecap="butt"/>
<line x1="729.42" y1="518.60" x2="729.42" y2="535.40" stroke="#1e1c1c" stroke-width="2.2" stroke-linecap="butt"/>
<line x1="745.06" y1="509.57" x2="759.61" y2="517.97" stroke="#1e1c1c" stroke-width="2.2" stroke-linecap="butt"/>
<line x1="760.05" y1="535.78" x2="749.39" y2="541.93" stroke="#1e1c1c" stroke-width="2.2" stroke-linecap="butt"/>
<line x1="756.70" y1="526.80" x2="769.68" y2="526.80" stroke="#f1f1f1" stroke-width="7.5" stroke-linecap="butt"/>
<line x1="756.70" y1="526.80" x2="773.80" y2="526.80" stroke="#1e1c1c" stroke-width="2.4" stroke-linecap="butt"/>
<text x="775.52" y="531.70" font-size="14.8" font-weight="bold" font-style="normal" fill="#1e1c1c">FG</text>
<text x="739.36" y="557.50" font-size="14.8" font-weight="bold" font-style="normal" fill="#1e1c1c">N</text>
<line x1="723.22" y1="514.60" x2="710.50" y2="507.20" stroke="#9c60ab" stroke-width="2.2" stroke-linecap="butt"/>
<text x="696.80" y="509.20" font-size="15.0" font-weight="bold" font-style="normal" fill="#9c60ab">X</text>
<text x="847.95" y="516.70" font-size="15.05" font-weight="normal" font-style="italic" fill="#3a3a3c">Aromatic substitution</text>
<polygon points="824.10,532.20 837.70,519.40 837.70,525.80 994.00,525.80 994.00,538.60 837.70,538.60 837.70,545.20" fill="#808285"/>
<polyline points="1024.58,536.10 1024.58,510.90 1046.40,498.30 1068.22,510.90" fill="none" stroke="#1e1c1c" stroke-width="2.2" stroke-linejoin="miter"/>
<line x1="1068.22" y1="510.90" x2="1068.22" y2="536.10" stroke="#1e1c1c" stroke-width="2.2" stroke-linecap="butt"/>
<line x1="1068.22" y1="536.10" x2="1054.63" y2="543.95" stroke="#1e1c1c" stroke-width="2.2" stroke-linecap="butt"/>
<line x1="1024.58" y1="536.10" x2="1038.17" y2="543.95" stroke="#1e1c1c" stroke-width="2.2" stroke-linecap="butt"/>
<line x1="1030.78" y1="514.90" x2="1030.78" y2="532.10" stroke="#1e1c1c" stroke-width="2.2" stroke-linecap="butt"/>
<line x1="1046.76" y1="505.67" x2="1061.66" y2="514.27" stroke="#1e1c1c" stroke-width="2.2" stroke-linecap="butt"/>
<line x1="1062.09" y1="532.48" x2="1051.09" y2="538.83" stroke="#1e1c1c" stroke-width="2.2" stroke-linecap="butt"/>
<line x1="1057.10" y1="522.40" x2="1071.72" y2="522.40" stroke="#f1f1f1" stroke-width="7.5" stroke-linecap="butt"/>
<line x1="1057.10" y1="522.40" x2="1075.70" y2="522.40" stroke="#1e1c1c" stroke-width="2.4" stroke-linecap="butt"/>
<text x="1078.02" y="527.40" font-size="14.8" font-weight="bold" font-style="normal" fill="#1e1c1c">FG</text>
<text x="1041.06" y="553.30" font-size="14.8" font-weight="bold" font-style="normal" fill="#1e1c1c">N</text>
<text x="22.53" y="587.80" font-size="15.35" font-weight="bold" font-style="normal" fill="#1e1c1c">An aspirational goal</text>
<text x="24.24" y="616.40" font-size="15.35" font-weight="normal" font-style="normal" fill="#8b8d90">Pre-functionalized</text>
<line x1="59.10" y1="622.20" x2="59.10" y2="664.00" stroke="#808285" stroke-width="1.6" stroke-linecap="butt"/>
<polyline points="80.65,703.00 80.65,678.00 59.00,665.50 37.35,678.00 37.35,703.00" fill="none" stroke="#808285" stroke-width="2.2" stroke-linejoin="miter"/>
<line x1="37.35" y1="703.00" x2="51.21" y2="711.00" stroke="#808285" stroke-width="2.2" stroke-linecap="butt"/>
<line x1="80.65" y1="703.00" x2="66.79" y2="711.00" stroke="#808285" stroke-width="2.2" stroke-linecap="butt"/>
<line x1="59.23" y1="672.10" x2="74.82" y2="681.10" stroke="#808285" stroke-width="2.0" stroke-linecap="butt"/>
<circle cx="59.1" cy="665.6" r="4.4" fill="#808285"/>
<line x1="80.65" y1="678.00" x2="102.00" y2="665.80" stroke="#808285" stroke-width="2.2" stroke-linecap="butt"/>
<line x1="99.00" y1="665.80" x2="99.00" y2="649.30" stroke="#808285" stroke-width="2.2" stroke-linecap="butt"/>
<line x1="104.60" y1="665.80" x2="104.60" y2="649.30" stroke="#808285" stroke-width="2.2" stroke-linecap="butt"/>
<text x="95.49" y="645.80" font-size="15.2" font-weight="bold" font-style="normal" fill="#808285">O</text>
<line x1="102.00" y1="665.80" x2="115.90" y2="673.40" stroke="#808285" stroke-width="2.2" stroke-linecap="butt"/>
<text x="117.08" y="682.60" font-size="15.2" font-weight="bold" font-style="normal" fill="#808285">OMe</text>
<text x="53.52" y="720.40" font-size="15.2" font-weight="bold" font-style="normal" fill="#808285">N</text>
<text x="52.50" y="738.90" font-size="15.2" font-weight="bold" font-style="normal" fill="#808285">Me</text>
<text x="90.14" y="734.30" font-size="15.5"><tspan font-weight="bold" font-style="normal" fill="#1e1c1c">6</tspan><tspan font-weight="normal" font-style="normal" fill="#8b8d90"> ($100 /g)</tspan></text>
<line x1="168.90" y1="671.70" x2="194.60" y2="671.70" stroke="#808285" stroke-width="3.0" stroke-linecap="butt"/>
<polygon points="213.50,671.70 192.00,665.90 194.60,671.70 192.00,677.50" fill="#808285"/>
<line x1="188.90" y1="685.40" x2="214.60" y2="685.40" stroke="#808285" stroke-width="3.0" stroke-linecap="butt"/>
<polygon points="233.50,685.40 212.00,679.60 214.60,685.40 212.00,691.20" fill="#808285"/>
<text x="199.84" y="614.60" font-size="15.4" font-weight="normal" font-style="normal" fill="#8b8d90">Many concession steps</text>
<line x1="284.40" y1="622.80" x2="313.30" y2="661.70" stroke="#808285" stroke-width="1.1" stroke-linecap="butt"/>
<polyline points="297.95,701.90 297.95,676.90 276.30,664.40 254.65,676.90 254.65,701.90" fill="none" stroke="#808285" stroke-width="2.2" stroke-linejoin="miter"/>
<line x1="254.65" y1="701.90" x2="268.51" y2="709.90" stroke="#808285" stroke-width="2.2" stroke-linecap="butt"/>
<line x1="297.95" y1="701.90" x2="284.09" y2="709.90" stroke="#808285" stroke-width="2.2" stroke-linecap="butt"/>
<text x="270.82" y="719.40" font-size="15.2" font-weight="bold" font-style="normal" fill="#808285">N</text>
<text x="270.60" y="737.20" font-size="15.2" font-weight="bold" font-style="normal" fill="#808285">Me</text>
<line x1="277.30" y1="659.00" x2="275.30" y2="659.00" stroke="#808285" stroke-width="1.7" stroke-linecap="butt"/>
<line x1="278.00" y1="653.90" x2="274.60" y2="653.90" stroke="#808285" stroke-width="1.7" stroke-linecap="butt"/>
<line x1="278.70" y1="648.80" x2="273.90" y2="648.80" stroke="#808285" stroke-width="1.7" stroke-linecap="butt"/>
<text x="270.74" y="645.00" font-size="15.2" font-weight="bold" font-style="normal" fill="#808285">Ar</text>
<polygon points="298.13,677.26 321.48,668.49 318.52,662.71 297.77,676.54" fill="#808285"/>
<line x1="317.40" y1="665.60" x2="317.40" y2="648.50" stroke="#808285" stroke-width="2.2" stroke-linecap="butt"/>
<line x1="322.60" y1="665.60" x2="322.60" y2="648.50" stroke="#808285" stroke-width="2.2" stroke-linecap="butt"/>
<text x="313.49" y="644.90" font-size="15.2" font-weight="bold" font-style="normal" fill="#808285">O</text>
<line x1="320.00" y1="665.60" x2="333.30" y2="672.40" stroke="#808285" stroke-width="2.2" stroke-linecap="butt"/>
<text x="334.98" y="681.70" font-size="15.2" font-weight="bold" font-style="normal" fill="#808285">OMe</text>
<text x="323.75" y="733.90" font-size="15.5"><tspan font-weight="bold" font-style="normal" fill="#1e1c1c">7</tspan></text>
<text x="376.44" y="635.50" font-size="15.4" font-weight="normal" font-style="normal" fill="#8b8d90">LAH, Swern, HWE,</text>
<text x="376.94" y="653.80" font-size="15.3" font-weight="normal" font-style="normal" fill="#8b8d90">C=C saturation, LAH</text>
<line x1="398.10" y1="667.10" x2="439.60" y2="667.10" stroke="#808285" stroke-width="2.9" stroke-linecap="butt"/>
<polygon points="458.50,667.10 437.00,661.30 439.60,667.10 437.00,672.90" fill="#808285"/>
<line x1="428.10" y1="681.30" x2="469.70" y2="681.30" stroke="#808285" stroke-width="2.9" stroke-linecap="butt"/>
<polygon points="488.60,681.30 467.10,675.50 469.70,681.30 467.10,687.10" fill="#808285"/>
<line x1="460.20" y1="695.40" x2="502.00" y2="695.40" stroke="#808285" stroke-width="2.9" stroke-linecap="butt"/>
<polygon points="520.90,695.40 499.40,689.60 502.00,695.40 499.40,701.20" fill="#808285"/>
<polyline points="584.55,699.80 584.55,674.80 562.90,662.30 541.25,674.80 541.25,699.80" fill="none" stroke="#1e1c1c" stroke-width="2.2" stroke-linejoin="miter"/>
<line x1="541.25" y1="699.80" x2="555.11" y2="707.80" stroke="#1e1c1c" stroke-width="2.2" stroke-linecap="butt"/>
<line x1="584.55" y1="699.80" x2="570.69" y2="707.80" stroke="#1e1c1c" stroke-width="2.2" stroke-linecap="butt"/>
<text x="557.42" y="717.50" font-size="15.2" font-weight="bold" font-style="normal" fill="#1e1c1c">N</text>
<text x="557.40" y="735.40" font-size="15.2" font-weight="bold" font-style="normal" fill="#1e1c1c">Me</text>
<line x1="563.70" y1="657.90" x2="562.10" y2="657.90" stroke="#9c60ab" stroke-width="2.0" stroke-linecap="butt"/>
<line x1="564.23" y1="653.50" x2="561.57" y2="653.50" stroke="#9c60ab" stroke-width="2.0" stroke-linecap="butt"/>
<line x1="564.77" y1="649.10" x2="561.03" y2="649.10" stroke="#9c60ab" stroke-width="2.0" stroke-linecap="butt"/>
<line x1="565.30" y1="644.70" x2="560.50" y2="644.70" stroke="#9c60ab" stroke-width="2.0" stroke-linecap="butt"/>
<text x="558.04" y="639.90" font-size="15.2" font-weight="bold" font-style="normal" fill="#9c60ab">Ar</text>
<polygon points="584.75,675.15 607.94,664.91 604.66,659.29 584.35,674.45" fill="#9c60ab"/>
<polyline points="606.30,662.10 627.40,674.80 627.40,699.60 640.80,707.20" fill="none" stroke="#1e1c1c" stroke-width="2.2" stroke-linejoin="miter"/>
<text x="643.38" y="717.50" font-size="15.2" font-weight="bold" font-style="normal" fill="#1e1c1c">OH</text>
<text x="598.22" y="734.10" font-size="15.5"><tspan font-weight="bold" font-style="normal" fill="#1e1c1c">8</tspan></text>
<line x1="757.00" y1="675.30" x2="714.60" y2="675.30" stroke="#1e1c1c" stroke-width="2.6" stroke-linecap="butt"/>
<polygon points="695.70,675.30 717.20,669.50 714.60,675.30 717.20,681.10" fill="#1e1c1c"/>
<line x1="730.60" y1="690.40" x2="689.40" y2="690.40" stroke="#1e1c1c" stroke-width="2.6" stroke-linecap="butt"/>
<polygon points="670.50,690.40 692.00,684.60 689.40,690.40 692.00,696.20" fill="#1e1c1c"/>
<text x="678.70" y="619.00" font-size="15.45" font-weight="normal" font-style="normal" fill="#9c60ab">Sequential radical couplings</text>
<polyline points="809.15,707.70 809.15,682.70 787.50,670.20 765.85,682.70 765.85,707.70" fill="none" stroke="#1e1c1c" stroke-width="2.2" stroke-linejoin="miter"/>
<line x1="765.85" y1="707.70" x2="779.71" y2="715.70" stroke="#1e1c1c" stroke-width="2.2" stroke-linecap="butt"/>
<line x1="809.15" y1="707.70" x2="795.29" y2="715.70" stroke="#1e1c1c" stroke-width="2.2" stroke-linecap="butt"/>
<text x="782.02" y="725.10" font-size="15.2" font-weight="bold" font-style="normal" fill="#1e1c1c">N</text>
<text x="782.02" y="738.20" font-size="15.2" font-weight="bold" font-style="normal" fill="#1e1c1c">H</text>
<line x1="788.30" y1="665.80" x2="786.70" y2="665.80" stroke="#9c60ab" stroke-width="2.0" stroke-linecap="butt"/>
<line x1="789.10" y1="660.90" x2="785.90" y2="660.90" stroke="#9c60ab" stroke-width="2.0" stroke-linecap="butt"/>
<line x1="789.90" y1="656.00" x2="785.10" y2="656.00" stroke="#9c60ab" stroke-width="2.0" stroke-linecap="butt"/>
<text x="781.58" y="650.60" font-size="15.2" font-weight="bold" font-style="normal" fill="#9c60ab">OH</text>
<line x1="773.30" y1="661.70" x2="800.00" y2="661.70" stroke="#9c60ab" stroke-width="1.3" stroke-linecap="butt"/>
<polygon points="809.34,683.05 831.52,674.57 828.48,668.83 808.96,682.35" fill="#1e1c1c"/>
<line x1="814.40" y1="666.60" x2="826.70" y2="686.60" stroke="#9c60ab" stroke-width="1.3" stroke-linecap="butt"/>
<line x1="827.40" y1="671.70" x2="827.40" y2="654.50" stroke="#1e1c1c" stroke-width="2.2" stroke-linecap="butt"/>
<line x1="832.60" y1="671.70" x2="832.60" y2="654.50" stroke="#1e1c1c" stroke-width="2.2" stroke-linecap="butt"/>
<text x="824.09" y="650.90" font-size="15.2" font-weight="bold" font-style="normal" fill="#1e1c1c">O</text>
<line x1="830.00" y1="671.70" x2="844.40" y2="678.60" stroke="#1e1c1c" stroke-width="2.2" stroke-linecap="butt"/>
<text x="846.08" y="687.20" font-size="15.2" font-weight="bold" font-style="normal" fill="#1e1c1c">OH</text>
<text x="829.07" y="733.90" font-size="15.5"><tspan font-weight="bold" font-style="normal" fill="#1e1c1c">9</tspan></text>
<line x1="971.70" y1="692.80" x2="905.90" y2="692.80" stroke="#1e1c1c" stroke-width="2.6" stroke-linecap="butt"/>
<polygon points="887.00,692.80 908.50,687.00 905.90,692.80 908.50,698.60" fill="#1e1c1c"/>
<text x="940.42" y="620.60" font-size="15.55" font-weight="normal" font-style="normal" fill="#9c60ab">Direct installation of FG handle</text>
<line x1="1023.10" y1="624.20" x2="1023.10" y2="669.00" stroke="#9c60ab" stroke-width="1.6" stroke-linecap="butt"/>
<polyline points="1043.65,707.20 1043.65,682.20 1022.00,669.70 1000.35,682.20 1000.35,707.20" fill="none" stroke="#1e1c1c" stroke-width="2.2" stroke-linejoin="miter"/>
<line x1="1000.35" y1="707.20" x2="1014.21" y2="715.20" stroke="#1e1c1c" stroke-width="2.2" stroke-linecap="butt"/>
<line x1="1043.65" y1="707.20" x2="1029.79" y2="715.20" stroke="#1e1c1c" stroke-width="2.2" stroke-linecap="butt"/>
<circle cx="1023.1" cy="669.9" r="4.6" fill="#9c60ab"/>
<text x="1017.02" y="723.90" font-size="15.2" font-weight="bold" font-style="normal" fill="#1e1c1c">N</text>
<text x="1017.02" y="736.90" font-size="15.2" font-weight="bold" font-style="normal" fill="#1e1c1c">H</text>
<polygon points="1043.85,682.55 1067.13,672.31 1063.87,666.69 1043.45,681.85" fill="#1e1c1c"/>
<line x1="1062.90" y1="669.50" x2="1062.90" y2="653.80" stroke="#1e1c1c" stroke-width="2.2" stroke-linecap="butt"/>
<line x1="1068.10" y1="669.50" x2="1068.10" y2="653.80" stroke="#1e1c1c" stroke-width="2.2" stroke-linecap="butt"/>
<text x="1059.69" y="649.20" font-size="15.2" font-weight="bold" font-style="normal" fill="#1e1c1c">O</text>
<line x1="1065.50" y1="669.50" x2="1078.70" y2="677.20" stroke="#1e1c1c" stroke-width="2.2" stroke-linecap="butt"/>
<text x="1081.18" y="686.80" font-size="15.2" font-weight="bold" font-style="normal" fill="#1e1c1c">OH</text>
<text x="1055.54" y="734.50" font-size="15.5"><tspan font-weight="bold" font-style="normal" fill="#1e1c1c">10</tspan><tspan font-weight="normal" font-style="normal" fill="#1e1c1c"> ($4 /g)</tspan></text>
<rect x="15.1" y="755.0" width="162.7" height="4.8" fill="#808285"/>
<rect x="358.9" y="755.0" width="162.6" height="4.8" fill="#808285"/>
<text x="189.25" y="760.60" font-size="14.95" font-weight="normal" font-style="normal" fill="#9a9c9f">Conventional approach</text>
<rect x="670.3" y="754.0" width="196.4" height="4.8" fill="#4a73b9"/>
<rect x="959.2" y="754.3" width="197.8" height="4.8" fill="#4a73b9"/>
<text x="880.08" y="761.10" font-size="14.7" font-weight="normal" font-style="normal" fill="#5f84c4">This Work</text>
<defs><filter id="blur6" x="-30%" y="-30%" width="160%" height="160%"><feGaussianBlur stdDeviation="22"/></filter><filter id="soft1"><feGaussianBlur stdDeviation="0.7"/></filter></defs>
<defs>
<g id="prot">
<path d="M110,180 C190,80 360,60 490,85 C620,110 690,200 695,330 C700,450 665,545 590,615 C500,695 340,710 215,675 C110,640 65,550 72,440 C80,330 55,250 110,180 Z" fill="#d3e2f3" opacity="0.4" filter="url(#blur6)"/>
<g fill="none" stroke="#a9c7e7" stroke-width="9" stroke-linecap="round" stroke-linejoin="round" opacity="0.9">
<path d="M200,430 C240,480 270,530 300,570"/>
<path d="M400,90 C410,120 415,140 420,160"/>
<path d="M440,120 C520,130 580,140 630,160"/>
<path d="M280,300 C330,265 370,240 410,228"/>
<path d="M470,420 C500,460 520,500 505,540"/>
<path d="M600,160 C640,200 660,240 650,300"/>
<path d="M575,505 L615,540 L595,590 L560,560 Z"/>
<path d="M250,600 C300,610 340,600 380,580"/>
<path d="M620,300 C660,320 680,360 660,400"/>
<path d="M640,420 C670,450 690,480 660,520"/>
<path d="M120,560 C160,520 200,510 240,520"/>
<path d="M90,420 C70,460 80,500 100,520"/>
<path d="M160,130 C200,110 240,110 270,130"/>
<path d="M230,380 C260,400 280,420 300,410"/>
<path d="M430,470 C450,520 470,560 520,560"/>
</g>
<g fill="none" stroke="#4a86c7" stroke-width="19" stroke-linecap="round" stroke-linejoin="round">
<path d="M175,172 C120,168 95,200 125,222 C150,238 165,245 140,255 C100,268 100,295 140,302 C170,308 165,325 130,332 C95,340 100,372 150,372 C185,372 205,350 225,320"/>
<path d="M215,240 C205,200 230,165 270,168 C300,170 305,200 280,205 C260,208 255,185 275,180"/>
<path d="M300,185 C325,152 365,140 392,160 C410,175 405,200 385,198"/>
<path d="M330,205 C370,250 405,310 425,360 C438,395 442,420 440,450"/>
<path d="M365,165 C410,210 445,265 462,320 C470,345 472,370 468,395"/>
<path d="M425,150 C465,165 495,200 515,250 C525,275 528,300 520,320"/>
<path d="M500,200 C540,192 572,220 565,255 C560,280 585,290 598,315 C606,335 590,345 572,338"/>
<path d="M560,352 C585,385 585,420 568,450 C558,470 565,495 578,510"/>
<path d="M330,420 C290,425 275,465 300,490 C325,515 375,510 385,475 C395,440 355,430 340,455 C330,475 350,495 365,480"/>
<path d="M270,420 C240,470 260,540 320,550 C380,560 420,520 415,470"/>
<path d="M72,530 C100,545 120,575 138,605 C155,635 178,668 205,668 C228,668 225,638 245,642 C265,646 258,688 285,686 C310,684 318,652 345,640 C378,627 415,622 442,588"/>
<path d="M125,470 C130,445 160,445 165,470 C168,490 145,495 135,485"/>
<path d="M205,485 C222,505 238,522 248,545"/>
<path d="M490,400 C505,425 510,450 500,475"/>
</g>
</g></defs>
<use href="#prot" transform="translate(888,392) scale(0.07323)"/>
<use href="#prot" transform="translate(908.2,634) scale(0.07323)"/>
</svg>
</body></html>
